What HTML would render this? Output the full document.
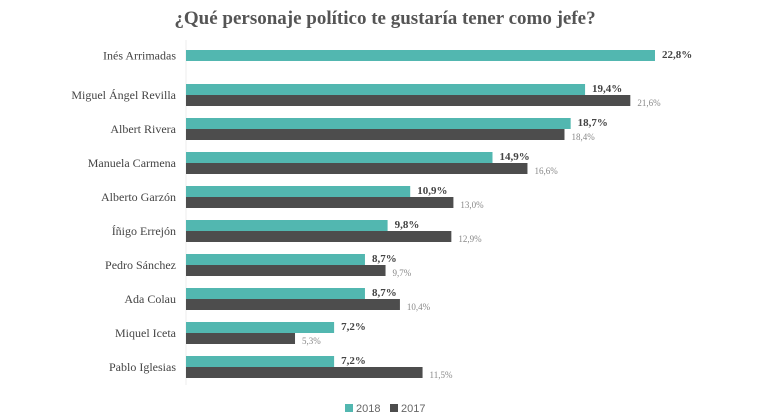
<!DOCTYPE html>
<html><head><meta charset="utf-8"><style>
body{margin:0;background:#fff;}
svg{display:block;font-family:"Liberation Serif",serif;}
</style></head><body>
<svg width="770" height="420" viewBox="0 0 770 420">
<text x="385" y="24" text-anchor="middle" font-size="19" font-weight="bold" fill="#555">¿Qué personaje político te gustaría tener como jefe?</text>
<line x1="186" y1="40" x2="186" y2="385" stroke="#eee" stroke-width="1"/>
<g id="bars"></g>
<g>
<rect x="345" y="404" width="8" height="8" fill="#52b7b0"/>
<text x="356" y="412" font-family="Liberation Sans,sans-serif" font-size="11" fill="#666">2018</text>
<rect x="390" y="404" width="8" height="8" fill="#4d4d4d"/>
<text x="401" y="412" font-family="Liberation Sans,sans-serif" font-size="11" fill="#666">2017</text>
</g>
</svg>
<script>
const categories=["Inés Arrimadas","Miguel Ángel Revilla","Albert Rivera","Manuela Carmena","Alberto Garzón","Íñigo Errejón","Pedro Sánchez","Ada Colau","Miquel Iceta","Pablo Iglesias"];
const values2018=[22.8,19.4,18.7,14.9,10.9,9.8,8.7,8.7,7.2,7.2];
const values2017=[null,21.6,18.4,16.6,13.0,12.9,9.7,10.4,5.3,11.5];
const x0=186,scale=469/22.8,top0=50,pitch=34,bh=11;
const xs=v=>x0+v*scale;
const fmt=v=>v.toFixed(1).replace('.',',')+'%';
const g=document.getElementById('bars');
const NS='http://www.w3.org/2000/svg';
function mk(tag,attrs){const e=document.createElementNS(NS,tag);for(const k in attrs)e.setAttribute(k,attrs[k]);g.appendChild(e);return e;}
categories.forEach((c,i)=>{
  const y=top0+i*pitch;
  const has17=values2017[i]!==null;
  const lab=mk('text',{x:176,y:(has17?y+bh:y+bh/2)+4,'text-anchor':'end','font-size':12,fill:'#444'});
  lab.textContent=c;
  
  
  const r=mk('rect',{x:x0,y:y,width:xs(values2018[i])-x0,height:bh,fill:'#52b7b0'});
  
  
  const t=mk('text',{x:xs(values2018[i])+7,y:y+8,'font-size':11,'font-weight':'bold',fill:'#444'});
  t.textContent=fmt(values2018[i]);
  
  
  if(has17){
    const r2=mk('rect',{x:x0,y:y+bh,width:xs(values2017[i])-x0,height:bh,fill:'#4d4d4d'});
    
    
    const t2=mk('text',{x:xs(values2017[i])+7,y:y+bh+11,'font-size':9,fill:'#888'});
    t2.textContent=fmt(values2017[i]);
    
    
  }
});
</script>
</body></html>
